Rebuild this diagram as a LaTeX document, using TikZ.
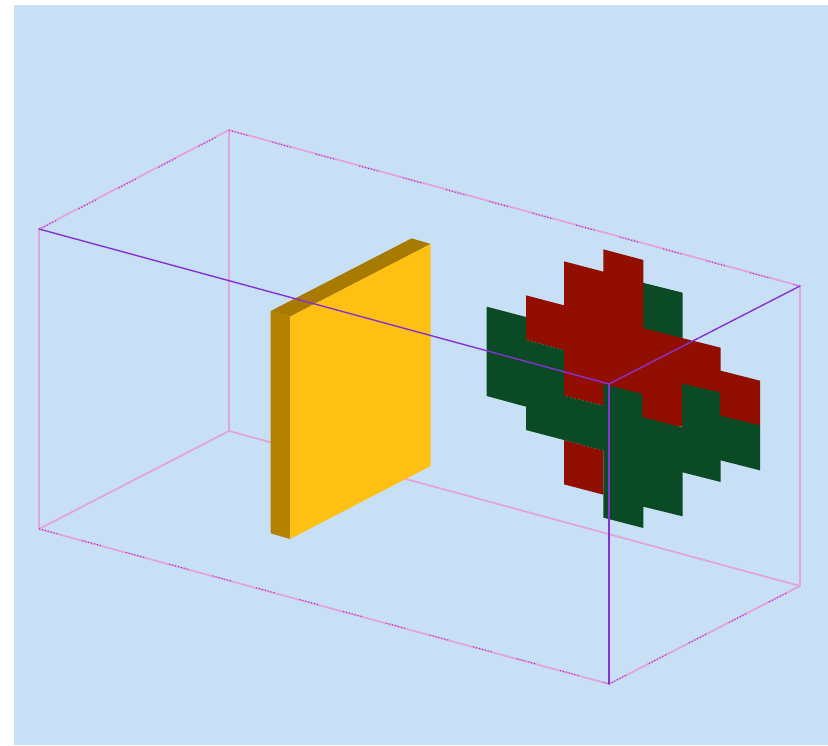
\documentclass[tikz,border=0pt]{standalone}
\definecolor{bgblue}{RGB}{200,224,246}
\definecolor{boxpink}{RGB}{226,164,220}
\definecolor{boxpurple}{RGB}{134,50,210}
\definecolor{platefront}{RGB}{255,192,20}
\definecolor{plateside}{RGB}{180,130,0}
\definecolor{platetop}{RGB}{168,122,0}
\definecolor{maskred}{RGB}{146,14,0}
\definecolor{maskgreen}{RGB}{10,75,38}
\tikzset{
  pinkedge/.style={draw=boxpink,line width=1.8pt,line cap=round},
  purpleedge/.style={draw=boxpurple,line width=1.4pt,line cap=round},
  dotedge/.style={draw=boxpurple,line width=1pt,
    dash pattern=on 1pt off 2pt on 1pt off 2pt on 1pt off 2pt on 1pt off 2pt on 1pt off 2pt on 1pt off 2pt on 1pt off 26pt}
}
\begin{document}
\begin{tikzpicture}[x=1pt,y=-1pt]
\useasboundingbox (0,0) rectangle (828,745);
\fill[bgblue] (14,5) rectangle (828,745);
% box corners
\coordinate (ftl) at (39,229);
\coordinate (btl) at (229,130);
\coordinate (btr) at (800,286);
\coordinate (ftr) at (609,384);
\coordinate (fbl) at (39,529);
\coordinate (bbl) at (229,431);
\coordinate (bbr) at (800,586);
\coordinate (fbr) at (609,684);
% hidden and outer edges
\draw[pinkedge] (btl) -- (bbl);
\draw[pinkedge] (fbl) -- (bbl) -- (bbr);
\draw[pinkedge] (ftl) -- (fbl);
\draw[pinkedge] (btr) -- (bbr) -- (fbr) -- (fbl);
\draw[pinkedge] (ftl) -- (btl) -- (btr);
\draw[dotedge] ([yshift=-.6pt]ftl) -- ([yshift=-.6pt]btl);
\draw[dotedge] ([yshift=-.4pt]btl) -- ([yshift=-.4pt]btr);
\draw[dotedge] ([yshift=.3pt]fbl) -- ([yshift=.3pt]fbr);
\draw[dotedge] (fbr) -- (bbr);
% yellow plate
\begin{scope}[shift={(260,230)},x=0.33333pt,y=-0.33333pt]
\fill[platetop] (32,243) -- (455,25) -- (512,42) -- (90,260) -- cycle;
\fill[plateside] (32,243) -- (90,260) -- (90,927) -- (32,910) -- cycle;
\fill[platefront] (90,260) -- (512,42) -- (512,708) -- (90,927) -- cycle;
\end{scope}
% red and green mask
\begin{scope}[shift={(470,240)},x=0.33333pt,y=-0.33333pt]
\fill[maskgreen] (518,128) -- (638,158) -- (638,300) -- (518,300) -- cycle;
\fill[maskred] (400,28) -- (520,60) -- (520,265) -- (640,295) -- (752,323) -- (752,392)
  -- (870,422) -- (870,560) -- (400,560) -- (400,497) -- (282,467) -- (282,330)
  -- (168,300) -- (168,166) -- (282,196) -- (282,64) -- (400,95) -- cycle;
\fill[maskred] (282,600) -- (400,632) -- (400,764) -- (282,733) -- cycle;
\fill[maskgreen] (50,200) -- (168,231) -- (168,300) -- (282,330) -- (282,467) -- (400,497)
  -- (400,432) -- (517,462) -- (517,531) -- (636,562) -- (636,431) -- (750,457)
  -- (750,527) -- (870,556) -- (870,691) -- (752,661) -- (752,726) -- (638,697)
  -- (638,829) -- (520,800) -- (520,864) -- (400,833) -- (400,632) -- (282,600)
  -- (168,570) -- (168,500) -- (50,468) -- cycle;
\end{scope}
% front edges over everything
\draw[purpleedge] (ftl) -- (ftr);
\draw[purpleedge] (ftr) -- (btr);
\draw[purpleedge] (ftr) -- (fbr);
\end{tikzpicture}
\end{document}
